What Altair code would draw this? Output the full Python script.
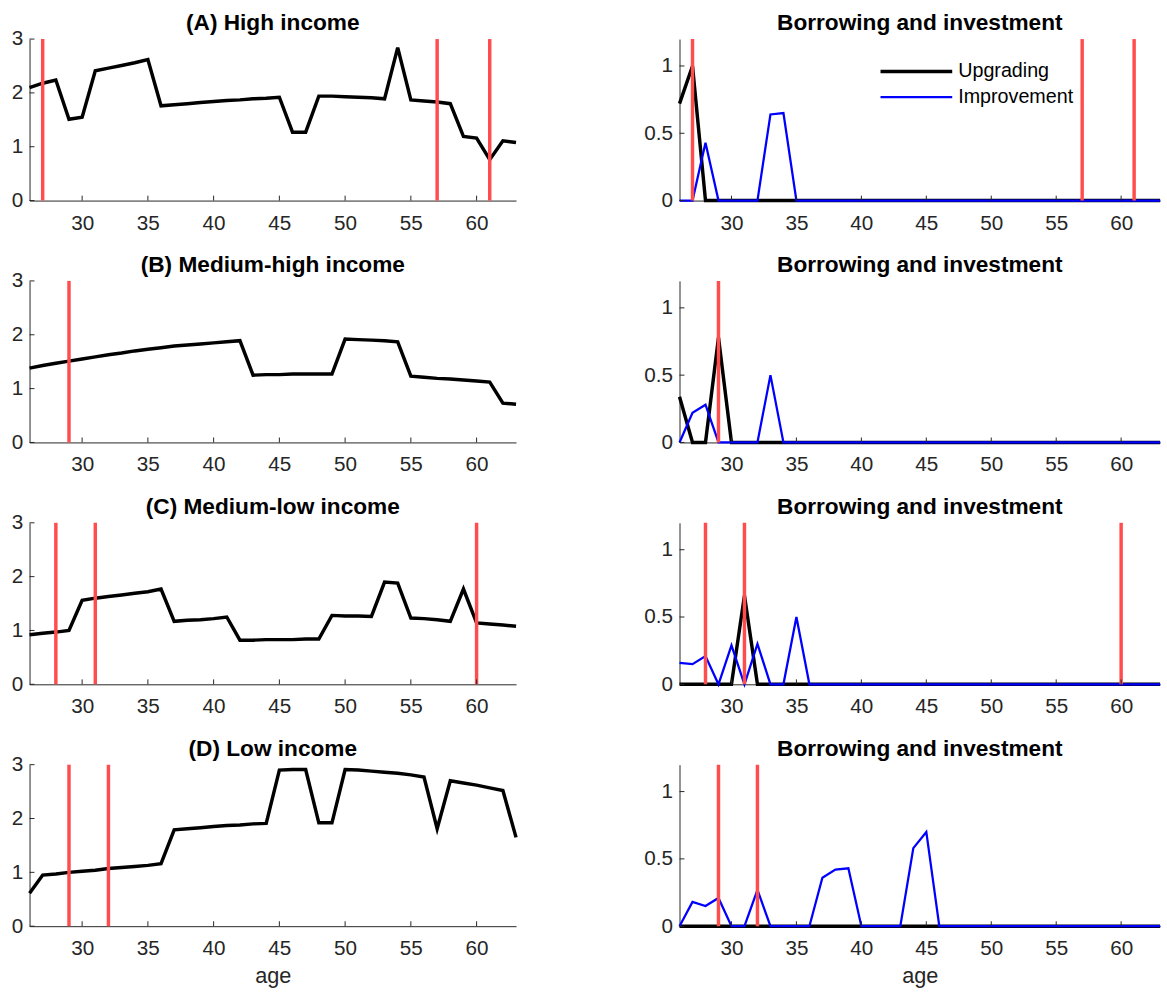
import altair as alt
import pandas as pd

# ---------------- data ----------------
ages = [26, 27, 28, 29, 30, 31, 32, 33, 34, 35, 36, 37, 38, 39, 40, 41, 42, 43, 44,
        45, 46, 47, 48, 49, 50, 51, 52, 53, 54, 55, 56, 57, 58, 59, 60, 61, 62, 63]

left_titles = ["(A) High income", "(B) Medium-high income",
               "(C) Medium-low income", "(D) Low income"]
right_title = "Borrowing and investment"

wealth_A = [2.10, 2.18, 2.24, 1.51, 1.55, 2.41, 2.46, 2.51, 2.56, 2.62, 1.76, 1.78, 1.80,
            1.82, 1.84, 1.86, 1.87, 1.89, 1.90, 1.92, 1.27, 1.27, 1.94, 1.94, 1.93, 1.92,
            1.91, 1.89, 2.84, 1.87, 1.85, 1.83, 1.80, 1.19, 1.16, 0.76, 1.11, 1.08]
wealth_B = [1.38, 1.43, 1.47, 1.51, 1.55, 1.59, 1.63, 1.66, 1.70, 1.73, 1.76, 1.79, 1.81,
            1.83, 1.85, 1.87, 1.89, 1.25, 1.26, 1.26, 1.27, 1.27, 1.27, 1.27, 1.92, 1.91,
            1.90, 1.89, 1.87, 1.23, 1.21, 1.19, 1.18, 1.16, 1.14, 1.12, 0.73, 0.71]
wealth_C = [0.92, 0.95, 0.97, 1.00, 1.56, 1.60, 1.63, 1.66, 1.69, 1.72, 1.77, 1.17, 1.19,
            1.20, 1.22, 1.25, 0.82, 0.82, 0.83, 0.83, 0.83, 0.84, 0.84, 1.28, 1.27, 1.27,
            1.26, 1.90, 1.88, 1.23, 1.22, 1.20, 1.17, 1.77, 1.14, 1.12, 1.10, 1.08]
wealth_D = [0.61, 0.95, 0.97, 1.00, 1.02, 1.04, 1.07, 1.09, 1.11, 1.13, 1.16, 1.79, 1.81,
            1.83, 1.85, 1.87, 1.88, 1.90, 1.91, 2.90, 2.91, 2.91, 1.92, 1.92, 2.91, 2.90,
            2.88, 2.86, 2.84, 2.81, 2.77, 1.81, 2.70, 2.66, 2.62, 2.57, 2.52, 1.65]

upgrading_A = [0.72, 1.00, 0, 0, 0, 0, 0, 0, 0, 0, 0, 0, 0, 0, 0, 0, 0, 0, 0,
               0, 0, 0, 0, 0, 0, 0, 0, 0, 0, 0, 0, 0, 0, 0, 0, 0, 0, 0]
improvement_A = [0, 0, 0.43, 0, 0, 0, 0, 0.64, 0.65, 0, 0, 0, 0, 0, 0, 0, 0, 0, 0,
                 0, 0, 0, 0, 0, 0, 0, 0, 0, 0, 0, 0, 0, 0, 0, 0, 0, 0, 0]
upgrading_B = [0.34, 0, 0, 0.78, 0, 0, 0, 0, 0, 0, 0, 0, 0, 0, 0, 0, 0, 0, 0,
               0, 0, 0, 0, 0, 0, 0, 0, 0, 0, 0, 0, 0, 0, 0, 0, 0, 0, 0]
improvement_B = [0, 0.22, 0.28, 0, 0, 0, 0, 0.50, 0, 0, 0, 0, 0, 0, 0, 0, 0, 0, 0,
                 0, 0, 0, 0, 0, 0, 0, 0, 0, 0, 0, 0, 0, 0, 0, 0, 0, 0, 0]
upgrading_C = [0, 0, 0, 0, 0, 0.66, 0, 0, 0, 0, 0, 0, 0, 0, 0, 0, 0, 0, 0,
               0, 0, 0, 0, 0, 0, 0, 0, 0, 0, 0, 0, 0, 0, 0, 0, 0, 0, 0]
improvement_C = [0.16, 0.15, 0.21, 0, 0.29, 0, 0.30, 0, 0, 0.50, 0, 0, 0, 0, 0, 0, 0, 0, 0,
                 0, 0, 0, 0, 0, 0, 0, 0, 0, 0, 0, 0, 0, 0, 0, 0, 0, 0, 0]
upgrading_D = [0, 0, 0, 0, 0, 0, 0, 0, 0, 0, 0, 0, 0, 0, 0, 0, 0, 0, 0,
               0, 0, 0, 0, 0, 0, 0, 0, 0, 0, 0, 0, 0, 0, 0, 0, 0, 0, 0]
improvement_D = [0, 0.18, 0.15, 0.21, 0, 0, 0.27, 0, 0, 0, 0, 0.36, 0.42, 0.43, 0, 0, 0, 0, 0.58,
                 0.70, 0, 0, 0, 0, 0, 0, 0, 0, 0, 0, 0, 0, 0, 0, 0, 0, 0, 0]

red_A = [27, 57, 61]
red_B = [29]
red_C = [28, 31, 60]
red_D = [29, 32]

x_ticks = [30, 35, 40, 45, 50, 55, 60]
y_ticks_left = [0, 1, 2, 3]
y_ticks_right = [0, 0.5, 1]
series_names = ["Upgrading", "Improvement"]

# ---------------- styling ----------------
WL, WR, H = 494, 488, 164
AX = "#262626"
FONT = "Liberation Sans"
RED = "#FF4D4D"
TICK_LEN = 5

xscale = alt.Scale(domain=[26, 63], nice=False, zero=False)
yscale_l = alt.Scale(domain=[0, 3], nice=False, zero=False)
yscale_r = alt.Scale(domain=[0, 1.2], nice=False, zero=False)


def x_enc(last):
    return alt.X("age:Q", scale=xscale,
                 axis=alt.Axis(values=x_ticks, ticks=False, grid=False, format="d",
                               domainColor=AX, domainWidth=1, labelColor=AX,
                               labelFont=FONT, labelFontSize=21, labelPadding=12,
                               title="age" if last else None, titleFont=FONT,
                               titleFontSize=22, titleFontWeight="normal",
                               titleColor=AX, titlePadding=7, zindex=0))


def y_enc(scale, vals, extent):
    return alt.Y("val:Q", scale=scale,
                 axis=alt.Axis(values=vals, ticks=False, grid=False, format="~g",
                               domainColor=AX, domainWidth=1, labelColor=AX,
                               labelFont=FONT, labelFontSize=21, labelPadding=7,
                               minExtent=extent, maxExtent=extent, title=None, zindex=0))


def inward_ticks(scale, yvals, extent, last):
    xt = alt.Chart(pd.DataFrame({"age": x_ticks})).mark_rule(
        color=AX, strokeWidth=1).encode(
        x=x_enc(last), y=alt.value(H), y2=alt.value(H - TICK_LEN))
    yt = alt.Chart(pd.DataFrame({"val": yvals})).mark_rule(
        color=AX, strokeWidth=1).encode(
        y=y_enc(scale, yvals, extent), x=alt.value(0), x2=alt.value(TICK_LEN))
    return [xt, yt]


def title(text, offset):
    return alt.TitleParams(text, font=FONT, fontSize=23, fontWeight="bold",
                           color="black", anchor="middle", frame="group", offset=offset)


def left_panel(values, reds, ttl, last):
    df = pd.DataFrame({"age": ages, "val": values})
    line = alt.Chart(df).mark_line(color="black", strokeWidth=3.5).encode(
        x=x_enc(last), y=y_enc(yscale_l, y_ticks_left, 25))
    rules = alt.Chart(pd.DataFrame({"age": reds})).mark_rule(
        color=RED, strokeWidth=3.5).encode(x=x_enc(last))
    return alt.layer(line, rules, *inward_ticks(yscale_l, y_ticks_left, 25, last)).properties(
        width=WL, height=H, title=title(ttl, -7))


def right_panel(upg, imp, reds, last, legend=False):
    dfu = pd.DataFrame({"age": ages, "val": upg, "series": "Upgrading"})
    dfi = pd.DataFrame({"age": ages, "val": imp, "series": "Improvement"})
    if legend:
        leg = alt.Legend(orient="none", legendX=862, legendY=22, title=None,
                         symbolType="stroke", symbolSize=5300, symbolStrokeWidth=3,
                         labelFont=FONT, labelFontSize=20, labelColor="black",
                         labelOffset=4, rowPadding=4, clipHeight=22, padding=0)
        cscale = alt.Scale(domain=series_names, range=["#000000", "#0000FF"])
        wscale = alt.Scale(domain=series_names, range=[3.5, 2.3])
        lu = alt.Chart(dfu).mark_line().encode(
            x=x_enc(last), y=y_enc(yscale_r, y_ticks_right, 32),
            color=alt.Color("series:N", scale=cscale, legend=leg),
            strokeWidth=alt.StrokeWidth("series:N", scale=wscale, legend=leg))
        li = alt.Chart(dfi).mark_line().encode(
            x=x_enc(last), y=y_enc(yscale_r, y_ticks_right, 32),
            color=alt.Color("series:N", scale=cscale, legend=leg),
            strokeWidth=alt.StrokeWidth("series:N", scale=wscale, legend=leg))
    else:
        lu = alt.Chart(dfu).mark_line(color="black", strokeWidth=3.5).encode(
            x=x_enc(last), y=y_enc(yscale_r, y_ticks_right, 32))
        li = alt.Chart(dfi).mark_line(color="#0000FF", strokeWidth=2.3).encode(
            x=x_enc(last), y=y_enc(yscale_r, y_ticks_right, 32))
    rules = alt.Chart(pd.DataFrame({"age": reds})).mark_rule(
        color=RED, strokeWidth=3.5).encode(x=x_enc(last))
    return alt.layer(lu, li, rules, *inward_ticks(yscale_r, y_ticks_right, 32, last)).properties(
        width=WR, height=H, title=title(right_title, 2))


wealth = [wealth_A, wealth_B, wealth_C, wealth_D]
upgr = [upgrading_A, upgrading_B, upgrading_C, upgrading_D]
impr = [improvement_A, improvement_B, improvement_C, improvement_D]
reds = [red_A, red_B, red_C, red_D]

rows = []
for i in range(4):
    last = i == 3
    rows.append(alt.hconcat(
        left_panel(wealth[i], reds[i], left_titles[i], last),
        right_panel(upgr[i], impr[i], reds[i], last, legend=(i == 0)),
        spacing=122))

chart = alt.vconcat(*rows, spacing=21.6).properties(
    padding={"left": 5, "top": 5, "right": 0, "bottom": 0},
    background="white",
).configure_view(stroke=None)

chart.save("out.html", embed_options={"renderer": "svg", "actions": False})
